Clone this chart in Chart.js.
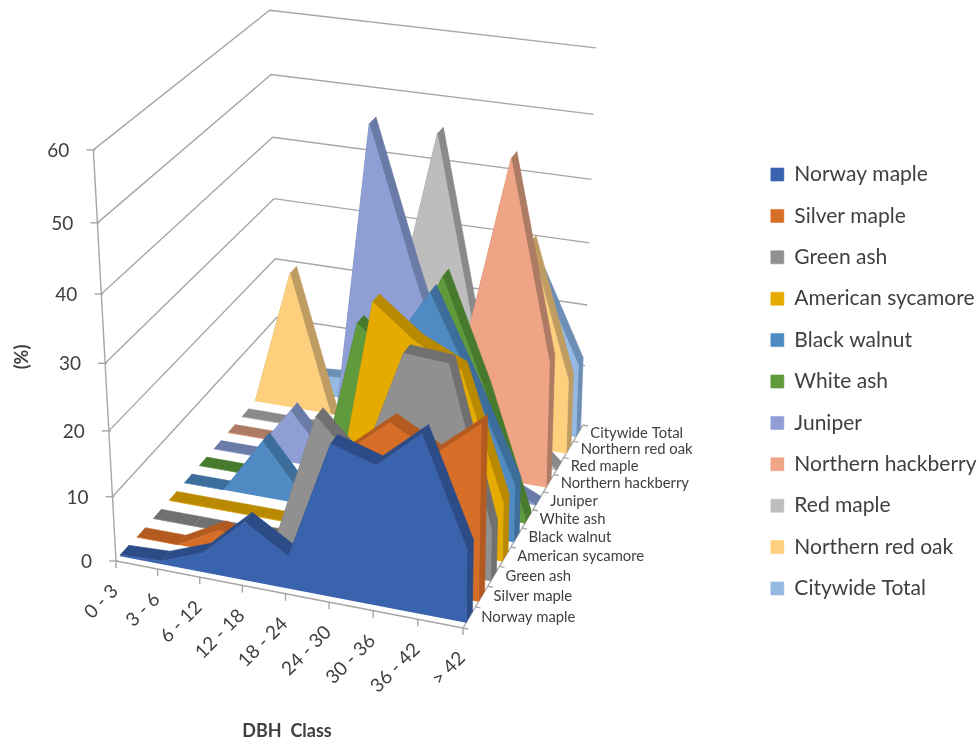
<!DOCTYPE html>
<html>
<head>
<meta charset="utf-8">
<title>DBH class distribution</title>
<script src="https://cdn.jsdelivr.net/npm/chart.js@4/dist/chart.umd.min.js"></script>
<style>
  html, body { margin: 0; padding: 0; background: #fff; }
  #wrap { width: 979px; height: 745px; }
</style>
</head>
<body>
<div id="wrap"><canvas id="chart"></canvas></div>
<script>
// Tree diameter classes and the share of each species in them (%)
const categories = ['0 - 3', '3 - 6', '6 - 12', '12 - 18', '18 - 24', '24 - 30', '30 - 36', '36 - 42', '> 42'];
const valueTicks = [0, 10, 20, 30, 40, 50, 60];
const speciesNames = ['Norway maple', 'Silver maple', 'Green ash', 'American sycamore', 'Black walnut', 'White ash',
  'Juniper', 'Northern hackberry', 'Red maple', 'Northern red oak', 'Citywide Total'];

const norwayMaple = [0.2, 0.5, 3, 9, 5, 23, 21, 26.7, 11];
const silverMaple = [0, 0, 3.5, 2, 1, 19, 24.5, 21, 26.5];
const greenAsh = [0, 0, 0, 0.5, 20.5, 14, 32, 31.5, 8];
const americanSycamore = [0, 0, 0, 0, 1, 36, 31, 28, 9];
const blackWalnut = [0, 0, 9, 1, 8, 26, 36, 23, 9];
const whiteAsh = [0, 0, 0, 0, 27, 22, 36, 20, 1];
const juniper = [0, 0, 8.5, 1, 54.6, 34, 15, 3, 0];
const northernHackberry = [0, 0, 0, 2, 4, 8, 21, 50, 20];
const redMaple = [0, 0, 0, 1, 22, 50, 18, 6, 0];
const northernRedOak = [0, 22.5, 0, 0, 2, 8, 20, 33, 12];
const citywideTotal = [2, 3, 3.5, 7, 12, 18, 21, 25.5, 12];

const speciesValues = [norwayMaple, silverMaple, greenAsh, americanSycamore, blackWalnut, whiteAsh,
  juniper, northernHackberry, redMaple, northernRedOak, citywideTotal];

const faceColors = ['#3a63ae', '#d66e28', '#909090', '#e6ab00', '#4f8bc2', '#5f9b3d',
  '#8f9fd6', '#f0a486', '#bdbdbd', '#fed07e', '#95b9e3'];
const edgeColors = ['#2c4c88', '#b35a20', '#707070', '#b98a00', '#3d6d9a', '#477a2d',
  '#6a7ba8', '#ad7a64', '#8a8a8a', '#bf9c62', '#6d8fb5'];

const LABEL_FONT = 'Lato, "Open Sans", sans-serif';
const TEXT_COLOR = '#404040';
const AXIS_COLOR = '#a6a6a6';
const TOP_PAD = 18;

// Perspective camera: floor corners plus the vanishing point of the vertical direction
const floorCorners = [[116, 561], [463, 628], [583, 425], [278, 375]];
const vertical = { x: 400, y: 5721, scale: -0.00123 };
const FRONT_GAP = 0.25;
const BACK_GAP = 0.75;

function floorHomography(p) {
  const sx = p[0][0] - p[1][0] + p[2][0] - p[3][0];
  const sy = p[0][1] - p[1][1] + p[2][1] - p[3][1];
  const dx1 = p[1][0] - p[2][0], dx2 = p[3][0] - p[2][0];
  const dy1 = p[1][1] - p[2][1], dy2 = p[3][1] - p[2][1];
  const det = dx1 * dy2 - dx2 * dy1;
  const g = (sx * dy2 - dx2 * sy) / det;
  const h = (dx1 * sy - sx * dy1) / det;
  return {
    a: p[1][0] - p[0][0] + g * p[1][0], b: p[3][0] - p[0][0] + h * p[3][0], c: p[0][0],
    d: p[1][1] - p[0][1] + g * p[1][1], e: p[3][1] - p[0][1] + h * p[3][1], f: p[0][1],
    g: g, h: h
  };
}
const H = floorHomography(floorCorners);

// cat: category position, depth: 0 (front) to 1 (back), value: height in %
function project(cat, depth, value) {
  const u = cat / (categories.length - 1);
  const k = value * vertical.scale;
  const w = H.g * u + H.h * depth + 1 + k;
  return {
    x: (H.a * u + H.b * depth + H.c + k * vertical.x) / w,
    y: (H.d * u + H.e * depth + H.f + k * vertical.y) / w
  };
}

const datasets = [];

function addShape(points, color, label) {
  datasets.push({
    label: label,
    data: points,
    backgroundColor: color,
    borderColor: color,
    borderWidth: 0.6,
    fill: 'shape',
    pointRadius: 0,
    tension: 0,
    clip: false
  });
}

function addLine(points, width) {
  datasets.push({
    data: points,
    borderColor: AXIS_COLOR,
    borderWidth: width || 1.4,
    fill: false,
    pointRadius: 0,
    tension: 0,
    clip: false
  });
}

// Earlier datasets paint on top, so the front species come first
speciesValues.forEach(function (values, s) {
  const zFront = (s + FRONT_GAP) / speciesNames.length;
  const zBack = (s + BACK_GAP) / speciesNames.length;
  const last = values.length - 1;

  const face = [project(0, zFront, 0)];
  values.forEach(function (v, i) { face.push(project(i, zFront, v)); });
  face.push(project(last, zFront, 0));
  addShape(face, faceColors[s], speciesNames[s]);

  // right end of the solid
  addShape([project(last, zFront, 0), project(last, zFront, values[last]),
    project(last, zBack, values[last]), project(last, zBack, 0)], edgeColors[s]);

  // sloped top, one quad per category step
  for (let i = 0; i < last; i++) {
    addShape([project(i, zFront, values[i]), project(i + 1, zFront, values[i + 1]),
      project(i + 1, zBack, values[i + 1]), project(i, zBack, values[i])], edgeColors[s]);
  }
});

// walls
valueTicks.forEach(function (t) {
  if (t > 0) addLine([project(0, 0, t), project(0, 1, t), project(categories.length - 1, 1, t)]);
});

// axes and tick marks
const lastCat = categories.length - 1;
addLine([project(0, 0, 0), project(0, 0, valueTicks[valueTicks.length - 1])]);
addLine([project(0, 0, 0), project(lastCat, 0, 0)]);
addLine([project(lastCat, 0, 0), project(lastCat, 1, 0)]);
valueTicks.forEach(function (t) {
  const p = project(0, 0, t);
  addLine([{ x: p.x - 7, y: p.y }, { x: p.x + 2, y: p.y }]);
});
categories.forEach(function (c, i) {
  const p = project(i, 0, 0);
  addLine([p, { x: p.x, y: p.y + 7 }]);
});
speciesNames.forEach(function (n, s) {
  const p = project(lastCat, s / speciesNames.length, 0);
  addLine([p, { x: p.x + 5, y: p.y + 1 }]);
});
const backTick = project(lastCat, 1, 0);
addLine([backTick, { x: backTick.x + 5, y: backTick.y + 1 }]);

// Keeps one data unit per pixel once the legend has taken its share of the width
const pixelScales = {
  id: 'pixelScales',
  afterLayout(chart) {
    const sx = chart.scales.x, sy = chart.scales.y;
    sx.min = sx.left;
    sx.max = sx.right;
    sx.configure();
    sy.min = sy.top;
    sy.max = sy.bottom;
    sy.configure();
  }
};

// Axis text follows the projected floor, so it is written straight on the canvas
const axisText = {
  id: 'axisText',
  afterDraw(chart) {
    const ctx = chart.ctx;
    const sx = chart.scales.x, sy = chart.scales.y;
    const px = function (p) { return { x: sx.getPixelForValue(p.x), y: sy.getPixelForValue(p.y) }; };
    ctx.save();
    ctx.fillStyle = TEXT_COLOR;

    ctx.font = '19px ' + LABEL_FONT;
    ctx.textAlign = 'right';
    ctx.textBaseline = 'middle';
    valueTicks.forEach(function (t) {
      const p = px(project(0, 0, t));
      ctx.fillText(String(t), p.x - 24, p.y + 1);
    });

    categories.forEach(function (c, i) {
      const p = px(project(i, 0, 0));
      ctx.save();
      ctx.translate(p.x - 1, p.y + 27);
      ctx.rotate(-Math.PI / 4);
      ctx.fillText(c, 0, 0);
      ctx.restore();
    });

    ctx.font = '14.8px ' + LABEL_FONT;
    ctx.textAlign = 'left';
    speciesNames.forEach(function (n, s) {
      const p = px(project(lastCat, (s + 0.5) / speciesNames.length, 0));
      ctx.fillText(n, p.x + 12, p.y);
    });

    ctx.font = 'bold 18px ' + LABEL_FONT;
    ctx.textAlign = 'center';
    ctx.fillText('DBH  Class', 287, 731);
    ctx.save();
    ctx.translate(22, 357);
    ctx.rotate(-Math.PI / 2);
    ctx.fillText('(%)', 0, 0);
    ctx.restore();
    ctx.restore();
  }
};

new Chart(document.getElementById('chart'), {
  type: 'line',
  data: { datasets: datasets },
  plugins: [pixelScales, axisText],
  options: {
    responsive: true,
    maintainAspectRatio: false,
    animation: false,
    layout: { padding: { top: TOP_PAD, right: -7.5 } },
    scales: {
      x: { type: 'linear', display: false },
      y: { type: 'linear', display: false, reverse: true }
    },
    plugins: {
      tooltip: { enabled: false },
      legend: {
        position: 'right',
        labels: {
          boxWidth: 13,
          boxHeight: 13,
          padding: 20.4,
          color: TEXT_COLOR,
          font: { family: LABEL_FONT, size: 21 },
          filter: function (item) { return !!item.text; }
        }
      }
    }
  }
});
</script>
</body>
</html>
